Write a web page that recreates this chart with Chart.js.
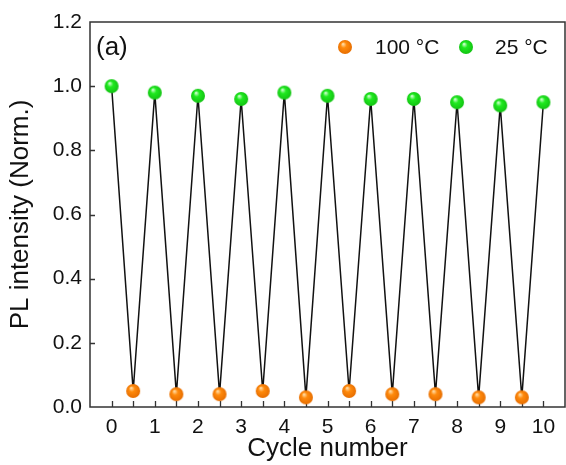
<!DOCTYPE html>
<html>
<head>
<meta charset="utf-8">
<script src="https://cdn.jsdelivr.net/npm/chart.js@4.4.1/dist/chart.umd.min.js"></script>
<style>
  html, body { margin: 0; padding: 0; background: #fff; }
  #wrap { width: 566px; height: 465px; }
</style>
</head>
<body>
<div id="wrap"><canvas id="pl" width="566" height="465"></canvas></div>
<script>
/* ======== Data ======== */
const hotLabel = '100 °C';
const coldLabel = '25 °C';
const coldCycles = [0, 1, 2, 3, 4, 5, 6, 7, 8, 9, 10];
const coldValues = [1.00, 0.98, 0.97, 0.96, 0.98, 0.97, 0.96, 0.96, 0.95, 0.94, 0.95];
const hotCycles = [0.5, 1.5, 2.5, 3.5, 4.5, 5.5, 6.5, 7.5, 8.5, 9.5];
const hotValues = [0.05, 0.04, 0.04, 0.05, 0.03, 0.05, 0.04, 0.04, 0.03, 0.03];
const xTicks = [0, 1, 2, 3, 4, 5, 6, 7, 8, 9, 10];
const yTicks = [0, 0.2, 0.4, 0.6, 0.8, 1.0, 1.2];

const FONT = "'Liberation Sans', Arial, sans-serif";

/* ======== Shiny ball markers ======== */
function ball(base, light, edge) {
    const c = document.createElement('canvas');
    c.width = 16; c.height = 16;
    const g = c.getContext('2d');
    const grad = g.createRadialGradient(6, 5, 0.5, 8, 8, 7.5);
    grad.addColorStop(0, light);
    grad.addColorStop(0.35, base);
    grad.addColorStop(1, edge);
    g.fillStyle = grad;
    g.beginPath();
    g.arc(8, 8, 7, 0, Math.PI * 2);
    g.fill();
    return c;
}
const greenBall = ball('#1fea1f', '#c8ffc8', '#12c012');
const orangeBall = ball('#ff8a0c', '#ffd9a0', '#e56c00');

// zig-zag path: 25 °C, 100 °C, 25 °C ...
const path = [];
coldCycles.forEach((x, i) => {
    path.push({ x, y: coldValues[i] });
    if (i < hotCycles.length) path.push({ x: hotCycles[i], y: hotValues[i] });
});

/* ======== Frame, inward ticks, legend ======== */
const decor = {
    id: 'decor',
    beforeDatasetsDraw(chart) {
        const { ctx, chartArea: a, scales: { x, y } } = chart;
        ctx.save();
        ctx.strokeStyle = '#333';
        ctx.lineWidth = 1.5;
        ctx.strokeRect(a.left, a.top, a.right - a.left, a.bottom - a.top);
        ctx.lineWidth = 1.3;
        ctx.beginPath();
        for (let v = x.min + 0.5; v < x.max; v += 0.5) {
            const px = Math.round(x.getPixelForValue(v)) + 0.5;
            ctx.moveTo(px, a.bottom);
            ctx.lineTo(px, a.bottom - 6);
        }
        yTicks.forEach(v => {
            if (v <= y.min || v >= y.max) return;
            const py = Math.round(y.getPixelForValue(v)) + 0.5;
            ctx.moveTo(a.left, py);
            ctx.lineTo(a.left + 5, py);
        });
        ctx.stroke();
        ctx.restore();
    },
    afterDraw(chart) {
        const { ctx } = chart;
        ctx.save();
        ctx.fillStyle = '#111';
        ctx.textBaseline = 'middle';
        ctx.font = '26px ' + FONT;
        ctx.fillText('(a)', 96, 48);
        ctx.font = '21px ' + FONT;
        ctx.drawImage(orangeBall, 345 - 8, 47 - 8);
        ctx.fillText(hotLabel, 375, 48);
        ctx.drawImage(greenBall, 466 - 8, 47 - 8);
        ctx.fillText(coldLabel, 495, 48);
        ctx.restore();
    }
};

new Chart(document.getElementById('pl'), {
    type: 'scatter',
    data: {
        datasets: [
            {
                label: 'path', data: path, showLine: true, order: 3,
                borderColor: '#111', borderWidth: 1.5, pointRadius: 0, pointHoverRadius: 0
            },
            {
                label: hotLabel, order: 1,
                data: hotCycles.map((x, i) => ({ x, y: hotValues[i] })),
                pointStyle: orangeBall, pointRadius: 7
            },
            {
                label: coldLabel, order: 1,
                data: coldCycles.map((x, i) => ({ x, y: coldValues[i] })),
                pointStyle: greenBall, pointRadius: 7
            }
        ]
    },
    options: {
        responsive: false,
        devicePixelRatio: 1,
        animation: false,
        layout: { autoPadding: false, padding: { top: 22, right: 1, left: 0, bottom: 0 } },
        plugins: { legend: { display: false }, tooltip: { enabled: false } },
        scales: {
            x: {
                type: 'linear', min: -0.5, max: 10.5,
                afterBuildTicks: s => { s.ticks = xTicks.map(v => ({ value: v })); },
                afterFit: s => { s.height = 58; s.paddingRight = 0; s.paddingLeft = 0; },
                grid: { display: false, drawTicks: false },
                border: { display: false },
                ticks: { color: '#111', padding: 8, font: { family: FONT, size: 21 }, callback: v => String(v) },
                title: {
                    display: true, text: 'Cycle number', color: '#111',
                    font: { family: FONT, size: 26 }, padding: { top: 0, bottom: 1 }
                }
            },
            y: {
                min: 0, max: 1.2,
                afterBuildTicks: s => { s.ticks = yTicks.map(v => ({ value: v })); },
                afterFit: s => { s.width = 90; s.paddingTop = 0; s.paddingBottom = 0; },
                grid: { display: false, drawTicks: false },
                border: { display: false },
                ticks: { color: '#111', padding: 8, font: { family: FONT, size: 21 }, callback: v => v.toFixed(1) },
                title: {
                    display: true, text: 'PL intensity (Norm.)', color: '#111',
                    font: { family: FONT, size: 26 }, padding: { top: 5, bottom: 0 }
                }
            }
        }
    },
    plugins: [decor]
});
</script>
</body>
</html>
